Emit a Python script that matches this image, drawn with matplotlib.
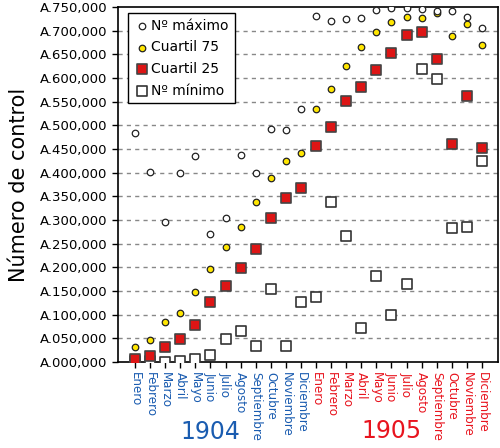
import numpy as np
import matplotlib
matplotlib.use('Agg')
import matplotlib.pyplot as plt
import matplotlib.transforms as mtransforms

# --- data ---
months = ['Enero', 'Febrero', 'Marzo', 'Abril', 'Mayo', 'Junio', 'Julio',
          'Agosto', 'Septiembre', 'Octubre', 'Noviembre', 'Diciembre']
years = ['1904', '1905']

n_max = [484000, 401000, 296000, 400000, 436000, 270000, 304000, 438000,
         400000, 492000, 490000, 534000,
         731000, 720000, 725000, 727000, 744000, 748000, 748000, 746000,
         742000, 742000, 729000, 706000]
q75 = [32000, 46000, 84000, 103000, 148000, 196000, 243000, 285000,
       338000, 389000, 425000, 441000,
       534000, 577000, 625000, 665000, 697000, 718000, 729000, 727000,
       737000, 689000, 714000, 670000]
q25 = [6000, 12000, 32000, 48000, 78000, 127000, 160000, 198000,
       238000, 304000, 346000, 367000,
       456000, 496000, 551000, 581000, 617000, 653000, 691000, 697000,
       640000, 460000, 562000, 452000]
n_min = [2000, 2000, 1000, 2000, 6000, 14000, 48000, 65000,
         34000, 154000, 34000, 127000,
         137000, 338000, 266000, 72000, 182000, 99000, 165000, 619000,
         598000, 283000, 285000, 424000]

BLUE = '#1a5cb0'
RED = '#e8141e'

fig = plt.figure(figsize=(5, 4.48), dpi=100)
ax = fig.add_axes([0.236, 0.192, 0.76, 0.792])

x = np.arange(len(n_max))
ax.scatter(x, n_min, s=56, marker='s', facecolor='white', edgecolor='#333333',
           linewidth=1.2, zorder=3, label='Nº mínimo')
ax.scatter(x, q25, s=44, marker='s', facecolor='#dd1515', edgecolor='#444444',
           linewidth=1.2, zorder=4, label='Cuartil 25')
ax.scatter(x, q75, s=22, marker='o', facecolor='#ffe600', edgecolor='#222222',
           linewidth=0.9, zorder=5, label='Cuartil 75')
ax.scatter(x, n_max, s=22, marker='o', facecolor='white', edgecolor='#222222',
           linewidth=0.9, zorder=5, label='Nº máximo')

ax.set_xlim(-1.13, 24.06)
ax.set_ylim(0, 750000)
yt = np.arange(0, 750001, 50000)
ax.set_yticks(yt)
ax.set_yticklabels(['A.%03d,000' % (v // 1000) for v in yt], fontsize=9.5)
for v in yt[1:-1]:
    ax.axhline(v, color='#888888', lw=1.0, ls=(0, (3, 3)), zorder=1)

ax.set_xticks(x)
labels = months + months
ax.set_xticklabels(labels, rotation=-90, fontsize=8.6, va='top', ha='center')
for i, t in enumerate(ax.get_xticklabels()):
    t.set_color(BLUE if i < 12 else RED)
ax.tick_params(axis='both', direction='out', length=4, width=1, color='black')
ax.tick_params(axis='x', pad=3)

for sp in ax.spines.values():
    sp.set_color('black')
    sp.set_linewidth(1.2)

ax.set_ylabel('Número de control', fontsize=15, labelpad=8)

trans = mtransforms.blended_transform_factory(ax.transData, fig.transFigure)
ax.text(5, 1 - 432 / 448, years[0], transform=trans, color=BLUE, fontsize=17,
        ha='center', va='center')
ax.text(17, 1 - 431 / 448, years[1], transform=trans, color=RED, fontsize=17,
        ha='center', va='center')

handles, lbls = ax.get_legend_handles_labels()
order = [3, 2, 1, 0]
leg = ax.legend([handles[i] for i in order], [lbls[i] for i in order],
                loc='upper left', bbox_to_anchor=(0.026, 0.983), borderaxespad=0,
                fontsize=10, fancybox=False, edgecolor='black', framealpha=1,
                handletextpad=0.1, handlelength=1.2, borderpad=0.4,
                labelspacing=0.55)
leg.get_frame().set_linewidth(1.0)

plt.savefig('out.png', dpi=100)
plt.close()
print("saved out.png")
